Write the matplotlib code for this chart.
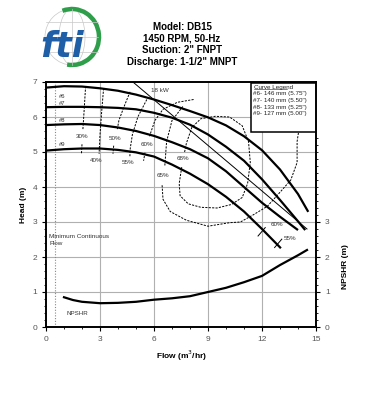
import numpy as np
import matplotlib
matplotlib.use("Agg")
import matplotlib.pyplot as plt
from matplotlib.patches import Arc, Ellipse, Rectangle
from matplotlib.ticker import MultipleLocator, FixedLocator

plt.rcParams['font.family'] = ['Liberation Sans', 'DejaVu Sans']

# ---------------- data ----------------
title_lines = ["Model: DB15", "1450 RPM, 50-Hz", "Suction: 2\" FNPT", "Discharge: 1-1/2\" MNPT"]

flow6 = [0, 1, 2, 3, 4, 5, 6, 7, 8, 9, 10, 11, 12, 13, 14, 14.57]
head6 = [6.84, 6.88, 6.87, 6.82, 6.75, 6.64, 6.50, 6.34, 6.17, 5.99, 5.76, 5.45, 5.05, 4.50, 3.80, 3.29]
flow7 = [0, 1, 2, 3, 4, 5, 6, 7, 8, 9, 10, 11, 12, 13, 14, 14.4]
head7 = [6.28, 6.29, 6.29, 6.28, 6.26, 6.22, 6.12, 5.98, 5.78, 5.50, 5.15, 4.75, 4.22, 3.63, 3.02, 2.77]
flow8 = [0, 1, 2, 3, 4, 5, 6, 7, 8, 9, 10, 11, 12, 13, 14]
head8 = [5.77, 5.79, 5.80, 5.77, 5.70, 5.60, 5.46, 5.28, 5.08, 4.82, 4.45, 4.00, 3.55, 3.15, 2.77]
flow9 = [0, 1, 2, 3, 4, 5, 6, 7, 8, 9, 10, 11, 12, 13.05]
head9 = [5.04, 5.08, 5.10, 5.10, 5.06, 4.99, 4.87, 4.64, 4.38, 4.08, 3.72, 3.30, 2.80, 2.25]
curve_names = ["#6", "#7", "#8", "#9"]
curve_label_y = [6.58, 6.39, 5.91, 5.20]

power_flow = [4.83, 14.5]
power_head = [7.0, 2.8]
power_label = "18 kW"

npshr_flow = [1, 1.5, 2, 3, 4, 5, 6, 7, 8, 9, 10, 11, 12, 13, 14, 14.5]
npshr_val = [0.85, 0.77, 0.72, 0.68, 0.69, 0.72, 0.78, 0.82, 0.88, 1.0, 1.12, 1.28, 1.46, 1.77, 2.05, 2.2]

# efficiency contours: (segments of flow list, head list)
eff30 = [([2.2, 2.12, 2.05], [6.88, 6.2, 5.65]), ([2.0, 1.97], [5.22, 4.95])]
eff40 = [([3.2, 3.1, 3.0, 2.95], [6.82, 6.2, 5.5, 4.95])]
eff50 = [([4.67, 4.3, 4.05, 3.95], [6.72, 6.25, 5.9, 5.62]), ([3.76, 3.72], [5.18, 4.95])]
eff55 = [([5.6, 5.1, 4.8, 4.68, 4.66], [6.5, 6.0, 5.5, 5.1, 4.88])]
eff60 = [([8.2, 7.3, 6.5, 6.05, 5.75], [6.5, 6.42, 6.22, 5.9, 5.45]), ([5.5, 5.42], [4.98, 4.75])]
eff65 = [([7.6, 7.0, 6.7, 6.6], [6.3, 5.9, 5.3, 4.6]),
         ([6.45, 6.5, 6.9, 7.8, 9.0, 10.2, 10.8, 11.5, 12.3, 13.0, 13.6, 13.95, 13.95, 14.1, 14.5, 15.0],
          [4.05, 3.65, 3.3, 3.05, 2.88, 2.98, 3.0, 3.2, 3.45, 3.85, 4.2, 4.7, 5.3, 5.8, 5.95, 5.95])]
eff68 = [([7.7, 7.8, 8.1, 8.6, 9.4, 10.2, 10.9, 11.25, 11.35, 11.2, 10.9, 10.3, 9.5, 8.6, 7.9, 7.45, 7.4, 7.55],
          [5.0, 5.25, 5.7, 5.95, 6.02, 6.0, 5.75, 5.3, 4.7, 4.1, 3.7, 3.5, 3.4, 3.42, 3.52, 3.75, 4.1, 4.6])]
eff_labels = ["30%", "40%", "50%", "55%", "60%", "65%", "68%", "60%", "55%"]
eff_label_x = [1.98, 2.8, 3.83, 4.56, 5.6, 6.5, 7.63, 12.85, 13.55]
eff_label_y = [5.44, 4.77, 5.40, 4.69, 5.22, 4.34, 4.82, 2.93, 2.53]

legend_title = "Curve Legend"
legend_lines = ["#6- 146 mm (5.75\")", "#7- 140 mm (5.50\")", "#8- 133 mm (5.25\")", "#9- 127 mm (5.00\")"]

# ---------------- figure ----------------
fig = plt.figure(figsize=(3.74, 4.0), dpi=100)
ax = fig.add_axes([46/374, 1-327/400, 270/374, 245/400])
ax.set_xlim(0, 15)
ax.set_ylim(0, 7)

grid_c = '#b0b0b0'
for gx in [3, 6, 9, 12]:
    ax.axvline(gx, color=grid_c, lw=0.8, zorder=0)
for gy in [1, 2, 3, 4, 5, 6]:
    ax.axhline(gy, color=grid_c, lw=0.8, zorder=0)
ax.axvline(0.5, color='#888888', lw=0.8, ls=(0, (1, 1.5)), zorder=0)

for fx, hy in [(flow6, head6), (flow7, head7), (flow8, head8), (flow9, head9)]:
    ax.plot(fx, hy, color='black', lw=1.6, solid_capstyle='butt', zorder=3)

ax.plot(power_flow, power_head, color='black', lw=0.7, zorder=3)
ax.text(5.85, 6.75, power_label, fontsize=4.5, color='#333333', ha='left', va='center')

for segs in [eff30, eff40, eff50, eff55, eff60, eff65, eff68]:
    for sx, sy in segs:
        ax.plot(sx, sy, color='black', lw=0.7, ls=(0, (2.2, 1.3)), zorder=2)

for t, x, y in zip(eff_labels, eff_label_x, eff_label_y):
    ax.text(x, y, t, fontsize=4.5, color='#333333', ha='center', va='center', zorder=4)

# short ticks on #9 near end
for tx, ty in [(11.98, 2.72), (12.9, 2.39)]:
    ax.plot([tx - 0.2, tx + 0.2], [ty - 0.12, ty + 0.12], color='black', lw=0.7, zorder=3)

for name, ly in zip(curve_names, curve_label_y):
    ax.text(0.7, ly, name, fontsize=4.2, color='#333333', ha='left', va='center')

ax.plot(npshr_flow, npshr_val, color='black', lw=1.6, zorder=3)
ax.text(1.15, 0.39, "NPSHR", fontsize=4.5, color='#333333', ha='left', va='center')
ax.text(0.17, 2.58, "Minimum Continuous", fontsize=4.6, color='#333333', ha='left', va='center')
ax.text(0.17, 2.39, "Flow", fontsize=4.6, color='#333333', ha='left', va='center')

# legend box
ax.add_patch(Rectangle((11.39, 5.58), 3.61, 1.38, facecolor='white', edgecolor='black', lw=1.1, zorder=5))
ax.text(11.55, 6.85, legend_title, fontsize=4.5, color='#222222', ha='left', va='center', zorder=6)
ax.plot([11.55, 13.4], [6.79, 6.79], color='#222222', lw=0.4, zorder=6)
for i, line in enumerate(legend_lines):
    ax.text(11.5, 6.66 - i * 0.19, line, fontsize=4.5, color='#222222', ha='left', va='center', zorder=6)

# axes styling
for sp in ax.spines.values():
    sp.set_linewidth(1.2)
ax.xaxis.set_major_locator(FixedLocator([0, 3, 6, 9, 12, 15]))
ax.xaxis.set_minor_locator(MultipleLocator(1))
ax.yaxis.set_major_locator(MultipleLocator(1))
ax.yaxis.set_minor_locator(MultipleLocator(0.2))
ax.tick_params(axis='both', which='major', labelsize=6, labelcolor='#555555', length=3, width=0.8)
ax.tick_params(axis='both', which='minor', length=1.5, width=0.6)
ax.set_xlabel("Flow (m$^3$/hr)", fontsize=6, fontweight='bold', labelpad=4)
ax.set_ylabel("Head (m)", fontsize=6, fontweight='bold')
ax.yaxis.set_label_coords(-0.07, 0.5)

ax2 = ax.twinx()
ax2.set_ylim(0, 7)
ax2.yaxis.set_major_locator(FixedLocator([0, 1, 2, 3]))
ax2.yaxis.set_minor_locator(FixedLocator(list(np.arange(0.2, 5.6, 0.2))))
ax2.tick_params(axis='y', which='major', labelsize=6, labelcolor='#555555', length=3, width=0.8)
ax2.tick_params(axis='y', which='minor', length=1.5, width=0.6)
ax2.set_ylabel("NPSHR (m)", fontsize=6, fontweight='bold')
ax2.yaxis.set_label_coords(1.095, 0.245)
for sp in ax2.spines.values():
    sp.set_linewidth(1.2)

# title
for i, t in enumerate(title_lines):
    fig.text(182/374, 1 - (26.7 + i * 11.7)/400, t, fontsize=7, fontweight='bold', ha='center', va='center')

# logo
lax = fig.add_axes([30/374, 1-80/400, 80/374, 80/400])
lax.set_xlim(30, 110)
lax.set_ylim(80, 0)
lax.axis('off')
lax.add_patch(Ellipse((72, 37), 54, 56, fill=False, edgecolor='#c8c8c8', lw=0.5))
lax.add_patch(Ellipse((72, 37), 26, 56, fill=False, edgecolor='#c8c8c8', lw=0.5))
lax.plot([72, 72], [9, 65], color='#c8c8c8', lw=0.5)
for yy in [22, 37, 52]:
    lax.plot([46, 98], [yy, yy], color='#c8c8c8', lw=0.5)
lax.add_patch(Arc((72, 37), 54, 56, theta1=-110, theta2=100, color='#2e9e4a', lw=3.2))
lax.text(62, 47, "fti", fontsize=25, fontweight='bold', fontstyle='italic', color='#1f5fa8',
         ha='center', va='center', family='DejaVu Sans')

fig.savefig("out.png", dpi=100)
